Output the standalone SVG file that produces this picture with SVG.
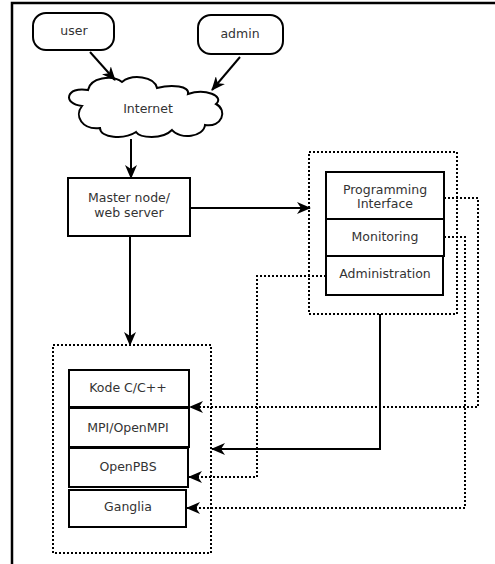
<svg xmlns="http://www.w3.org/2000/svg" width="495" height="564" viewBox="0 0 495 564">
<style>
text{font-family:"DejaVu Sans",sans-serif;font-size:12.5px;fill:#333;text-anchor:middle}
.box{fill:#fff;stroke:#000;stroke-width:2}
.dot{fill:none;stroke:#000;stroke-width:2;stroke-dasharray:2,2}
.ln{fill:none;stroke:#000;stroke-width:2}
</style>
<defs>
<marker id="ah" viewBox="0 0 14 12" refX="13" refY="6" markerWidth="14" markerHeight="12" markerUnits="userSpaceOnUse" orient="auto">
<path d="M0,0 L14,6 L0,12 L4,6 Z" fill="#000"/>
</marker>
</defs>
<rect width="495" height="564" fill="#fff"/>
<path d="M12,564 V3 H495" fill="none" stroke="#000" stroke-width="2.5"/>
<g id="user"><rect class="box" x="33" y="13" width="81" height="37" rx="13"/><text x="74" y="35">user</text></g>
<g id="admin"><rect class="box" x="198" y="15" width="85" height="39" rx="13"/><text x="240" y="38">admin</text></g>
<g id="internet"><path class="box" d="M82,106 C62,104 66,86 88,90 C90,78 112,74 122,82 C132,74 154,76 157,88 C172,84 190,86 188,94 C205,88 225,96 216,104 C228,110 222,128 205,125 C204,137 180,140 172,130 C162,140 140,138 136,132 C124,140 100,138 100,128 C82,130 74,116 82,106 Z"/><text x="148" y="113">Internet</text></g>
<g id="master"><rect class="box" x="68" y="178" width="122" height="58"/><text x="129" y="202">Master node/</text><text x="129" y="217">web server</text></g>
<g id="services">
<rect class="dot" x="309" y="152" width="148" height="162"/>
<g id="prog"><rect class="box" x="326" y="172" width="118" height="47"/><text x="385" y="194">Programming</text><text x="385" y="208">Interface</text></g>
<g id="mon"><rect class="box" x="326" y="219" width="118" height="37"/><text x="385" y="241">Monitoring</text></g>
<g id="adm"><rect class="box" x="326" y="256" width="117" height="39"/><text x="385" y="278">Administration</text></g>
</g>
<g id="cluster">
<rect class="dot" x="53" y="345" width="158" height="208"/>
<g id="kode"><rect class="box" x="69" y="370" width="120" height="37"/><text x="128" y="392">Kode C/C++</text></g>
<g id="mpi"><rect class="box" x="69" y="408" width="120" height="39"/><text x="128" y="432">MPI/OpenMPI</text></g>
<g id="pbs"><rect class="box" x="69" y="448" width="119" height="39"/><text x="128" y="471">OpenPBS</text></g>
<g id="ganglia"><rect class="box" x="69" y="490" width="117" height="37"/><text x="128" y="511">Ganglia</text></g>
</g>
<g id="connectors">
<line class="ln" x1="90" y1="52" x2="115" y2="80" marker-end="url(#ah)"/>
<line class="ln" x1="240" y1="57" x2="212" y2="90" marker-end="url(#ah)"/>
<line class="ln" x1="131" y1="139" x2="131" y2="178" marker-end="url(#ah)"/>
<line class="ln" x1="190" y1="208" x2="310" y2="208" marker-end="url(#ah)"/>
<line class="ln" x1="130" y1="236" x2="130" y2="345" marker-end="url(#ah)"/>
<polyline class="ln" points="380,314 380,449 212,449" marker-end="url(#ah)"/>
<polyline class="dot" points="444,198 478,198 478,407 190,407" marker-end="url(#ah)"/>
<polyline class="dot" points="444,237 465,237 465,508 187,508" marker-end="url(#ah)"/>
<polyline class="dot" points="326,276 257,276 257,477 189,477" marker-end="url(#ah)"/>
</g>
</svg>
